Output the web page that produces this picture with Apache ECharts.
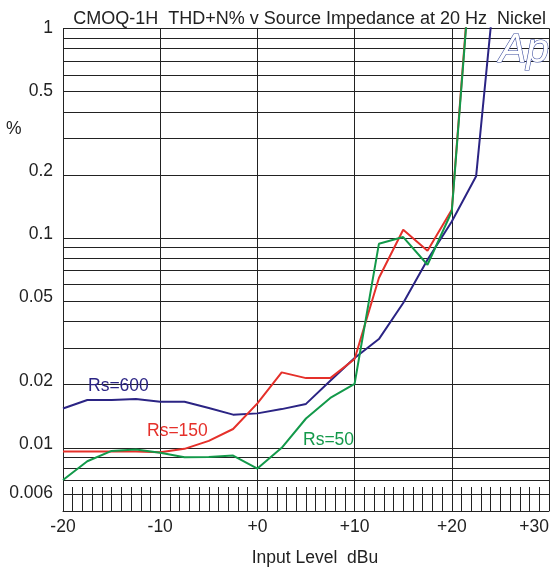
<!DOCTYPE html>
<html>
<head>
<meta charset="utf-8">
<script src="https://cdn.jsdelivr.net/npm/echarts@6/dist/echarts.min.js"></script>
<style>
  html, body { margin: 0; padding: 0; background: #fff; }
  #chart { width: 556px; height: 572px; }
</style>
</head>
<body>
<div id="chart"></div>
<script>
// Input level sweep, dBu
const levels = [-20, -17.5, -15, -12.5, -10, -7.5, -5, -2.5, 0, 2.5, 5, 7.5, 10, 12.5, 15, 17.5, 20, 22.5, 25];

// THD+N (%) for each source impedance
const rs600 = [0.0154, 0.0169, 0.0169, 0.0171, 0.0166, 0.0166, 0.0155, 0.0144, 0.0146, 0.0153, 0.0162, 0.0209, 0.0268, 0.0330, 0.0490, 0.0788, 0.120, 0.197, 3.0];
const rs150 = [0.0096, 0.0096, 0.0096, 0.0096, 0.00953, 0.00989, 0.0108, 0.0123, 0.0163, 0.0229, 0.0215, 0.0215, 0.0265, 0.0645, 0.1095, 0.087, 0.1364, 4.4, null];
const rs50  = [0.00703, 0.00863, 0.00967, 0.00981, 0.00947, 0.00902, 0.00904, 0.00919, 0.00797, 0.0100, 0.0138, 0.0173, 0.0202, 0.0939, 0.1011, 0.0746, 0.1339, 4.2, null];

// Horizontal grid values and the ones that carry a label
const gridValues = [1, 0.9, 0.8, 0.7, 0.6, 0.5, 0.4, 0.3, 0.2, 0.1, 0.09, 0.08, 0.07, 0.06, 0.05, 0.04, 0.03, 0.02, 0.01, 0.009, 0.008, 0.007, 0.006];
const yTickLabels = ['1', '0.5', '0.2', '0.1', '0.05', '0.02', '0.01', '0.006'];
const labelLift = { '1': 0, '0.5': 0, '0.006': -1 };

const FONT = 'Liberation Sans, Arial, Helvetica, sans-serif';
const INK = '#222';

const toPairs = vals => levels.map((x, i) => [x, vals[i]]);

const gridLines = gridValues.map(v => {
  const txt = String(v);
  const labelled = yTickLabels.indexOf(txt) >= 0;
  return {
    yAxis: v,
    label: labelled ? {
      show: true,
      formatter: txt,
      position: 'start',
      distance: 10,
      offset: [0, txt in labelLift ? labelLift[txt] : -4],
      color: INK,
      fontSize: 17.5,
      fontFamily: FONT
    } : { show: false }
  };
});

const chart = echarts.init(document.getElementById('chart'), null, { renderer: 'canvas' });

chart.setOption({
  backgroundColor: '#fff',
  animation: false,
  title: {
    text: 'CMOQ-1H  THD+N% v Source Impedance at 20 Hz  Nickel',
    right: 5,
    top: 5,
    textStyle: { fontSize: 18, fontWeight: 'normal', color: INK, fontFamily: FONT }
  },
  grid: { left: 63, right: 7, top: 28.3, bottom: 60.5, containLabel: false },
  xAxis: {
    type: 'value',
    min: -20,
    max: 30,
    interval: 10,
    name: 'Input Level  dBu',
    nameLocation: 'middle',
    nameGap: 38,
    nameTextStyle: { fontSize: 17.5, color: INK, fontFamily: FONT, padding: [0, 0, 0, 18] },
    axisLine: { onZero: false, lineStyle: { color: INK, width: 1 } },
    axisTick: { show: true, inside: true, length: 24, lineStyle: { color: INK } },
    minorTick: { show: true, splitNumber: 10, length: 24, lineStyle: { color: INK, width: 1 } },
    splitLine: { show: true, lineStyle: { color: INK, width: 1 } },
    axisLabel: {
      margin: 7,
      fontSize: 17.5,
      color: INK,
      fontFamily: FONT,
      alignMaxLabel: 'right',
      formatter: v => (v > 0 ? '+' + v : v === 0 ? '+0' : String(v))
    }
  },
  yAxis: {
    type: 'log',
    logBase: 10,
    min: 0.005,
    max: 1,
    axisLine: { show: true, lineStyle: { color: INK, width: 1 } },
    axisTick: { show: false },
    axisLabel: { show: false },
    splitLine: { show: false }
  },
  graphic: [
    { type: 'text', left: 6, top: 120, style: { text: '%', fontSize: 17.5, fill: INK, fontFamily: FONT } },
    { type: 'text', x: 88, y: 386.5, style: { text: 'Rs=600', fontSize: 17.5, fill: '#2b2484', fontFamily: FONT, verticalAlign: 'middle' }, z: 10 },
    { type: 'text', x: 147, y: 431, style: { text: 'Rs=150', fontSize: 17.5, fill: '#e5302a', fontFamily: FONT, verticalAlign: 'middle' }, z: 10 },
    { type: 'text', x: 303, y: 440, style: { text: 'Rs=50', fontSize: 17.5, fill: '#13994a', fontFamily: FONT, verticalAlign: 'middle' }, z: 10 },
    { type: 'text', x: 499, y: 30, style: { text: 'Ap', fontSize: 41, fontStyle: 'italic', fill: '#fff', stroke: '#3b4c9e', lineWidth: 1.2, fontFamily: FONT }, z: 10 }
  ],
  series: [
    {
      name: 'Rs=600',
      type: 'line',
      data: toPairs(rs600),
      showSymbol: false,
      clip: true,
      z: 3,
      lineStyle: { color: '#2b2484', width: 2 },
      markLine: {
        silent: true,
        z: 1,
        precision: 4,
        symbol: ['none', 'none'],
        animation: false,
        lineStyle: { color: INK, width: 1, type: 'solid' },
        emphasis: { disabled: true },
        data: gridLines
      }
    },
    {
      name: 'Rs=150',
      type: 'line',
      data: toPairs(rs150),
      showSymbol: false,
      clip: true,
      z: 4,
      lineStyle: { color: '#e5302a', width: 2 }
    },
    {
      name: 'Rs=50',
      type: 'line',
      data: toPairs(rs50),
      showSymbol: false,
      clip: true,
      z: 5,
      lineStyle: { color: '#13994a', width: 2 }
    }
  ]
});
</script>
</body>
</html>
